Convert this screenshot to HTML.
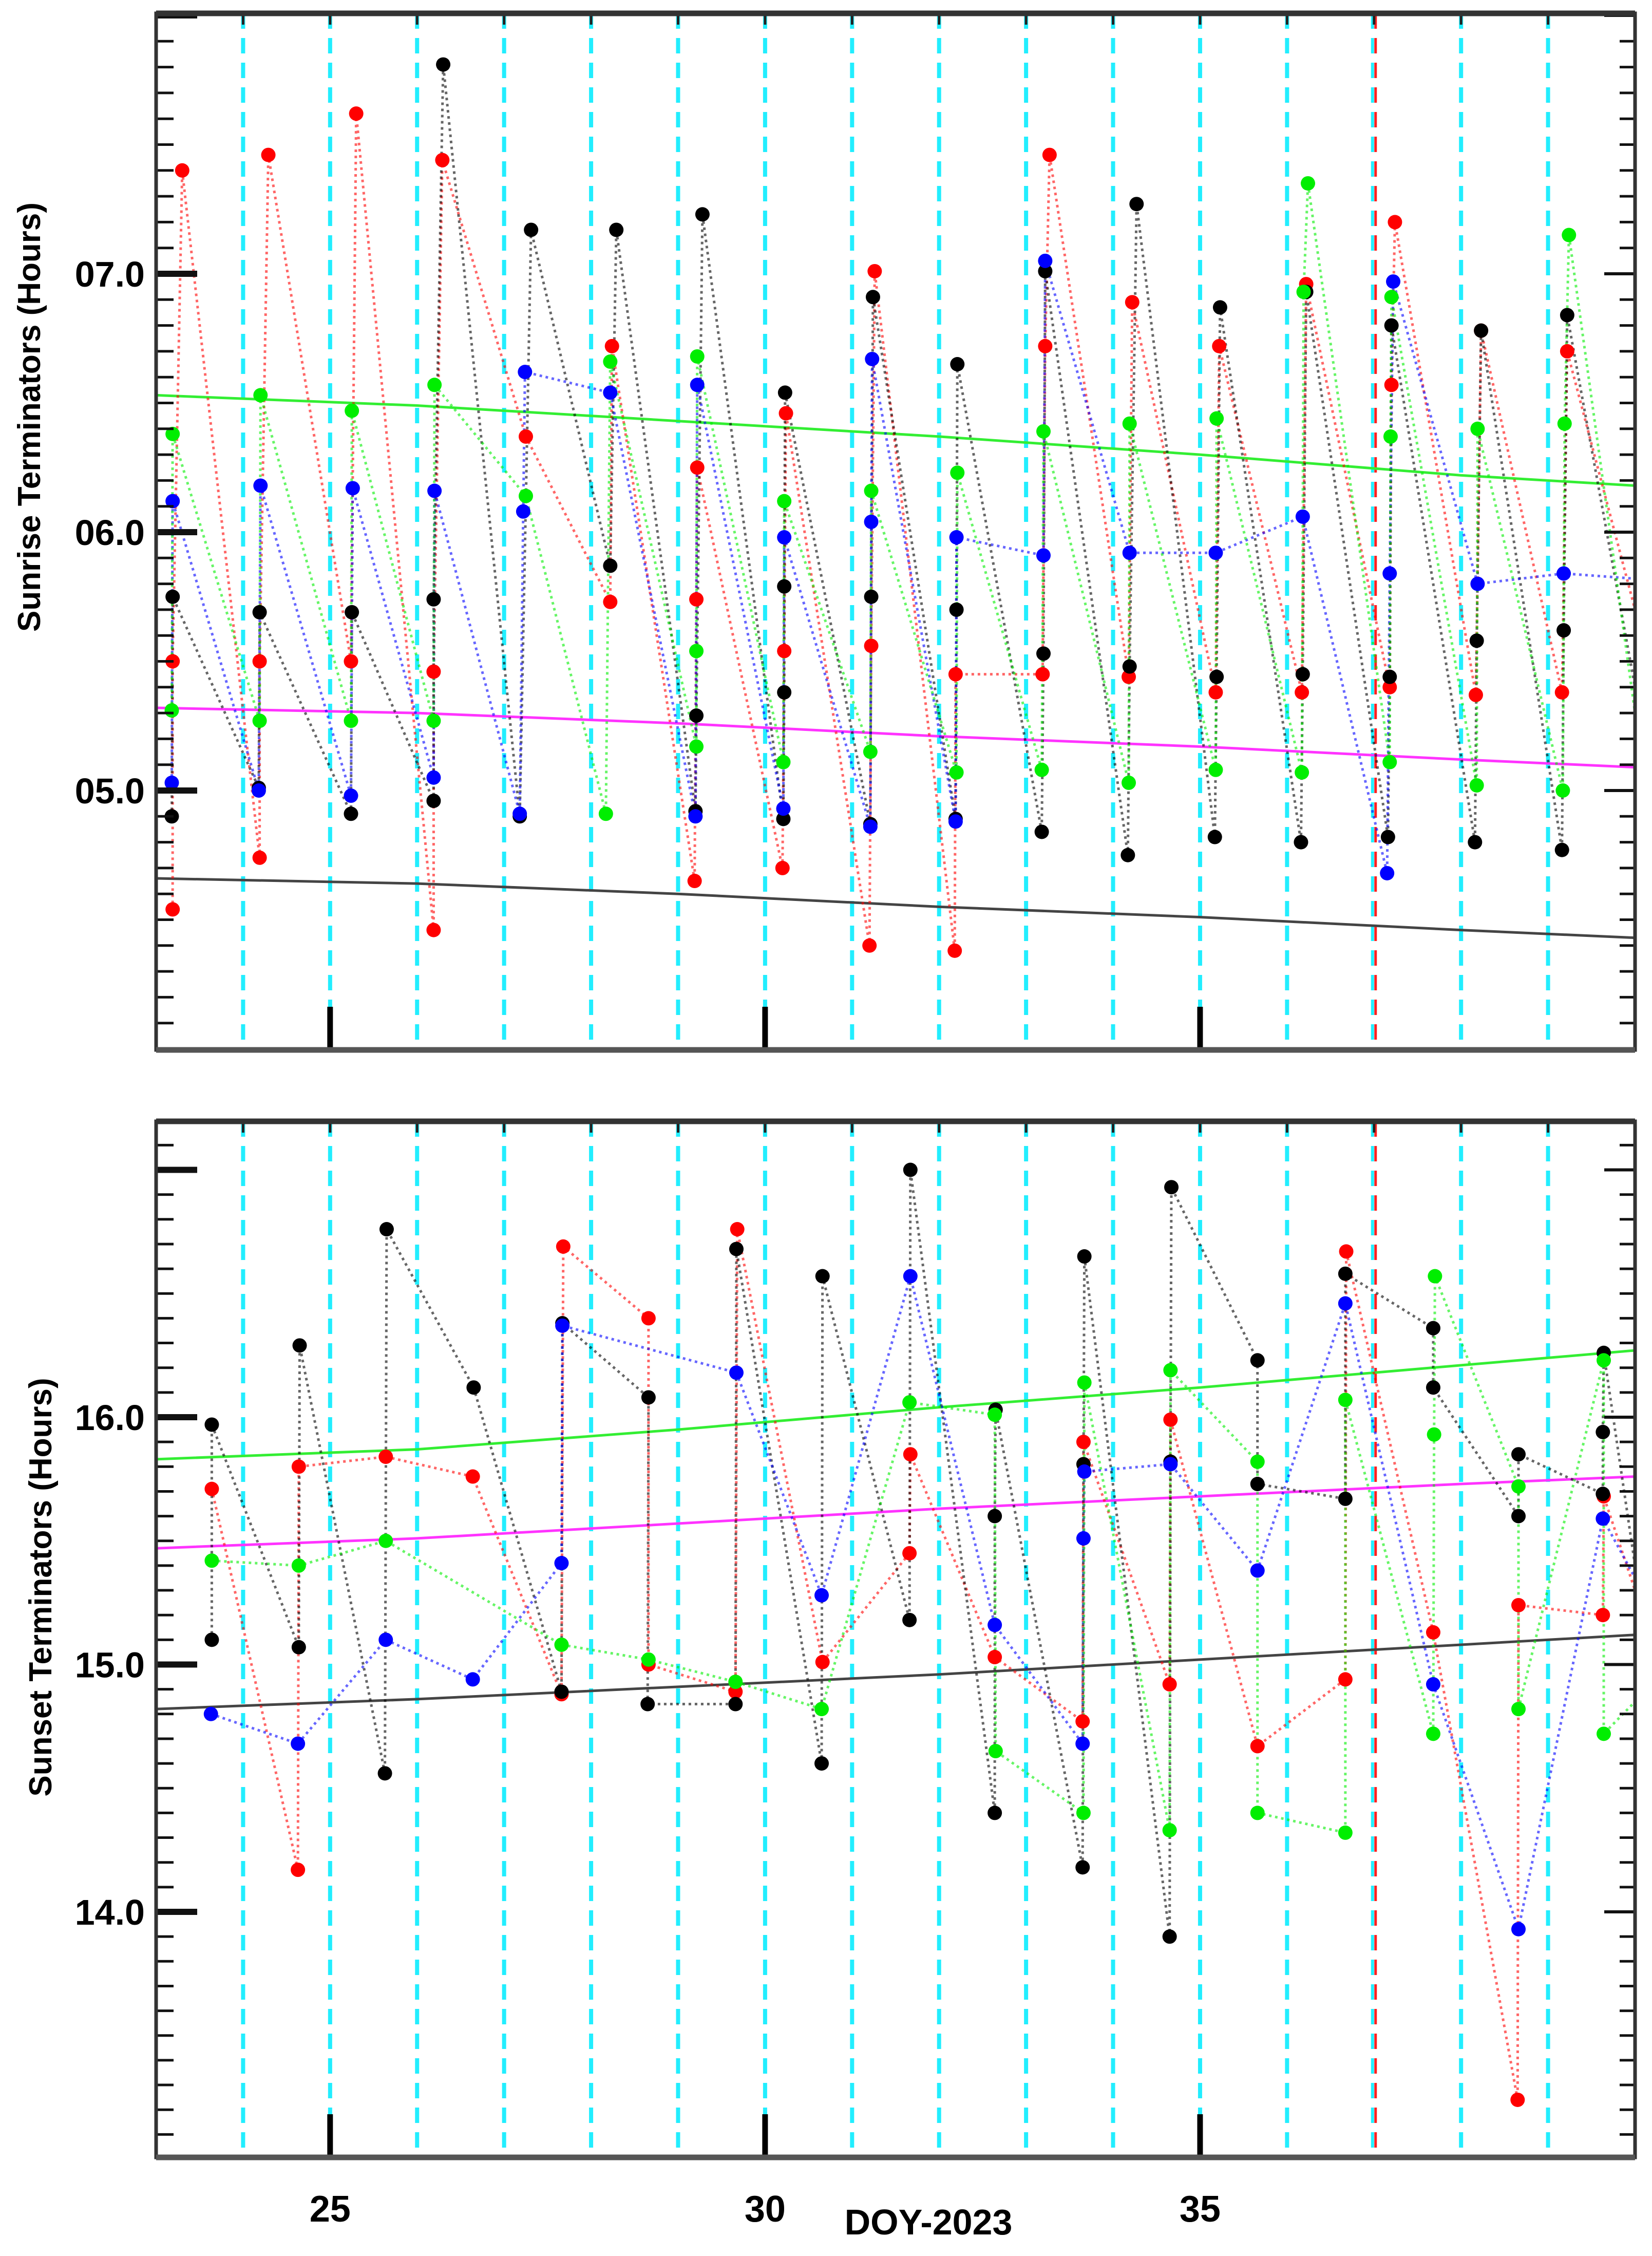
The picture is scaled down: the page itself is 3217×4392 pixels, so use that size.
<!DOCTYPE html>
<html><head><meta charset="utf-8"><title>Terminators DOY-2023</title>
<style>html,body{margin:0;padding:0;background:#fff;}svg{display:block;}</style></head>
<body>
<svg id="chart" xmlns="http://www.w3.org/2000/svg" width="3217" height="4392" viewBox="0 0 3217 4392" font-family="Liberation Sans, sans-serif">
<rect x="0" y="0" width="3217" height="4392" fill="#fff"/>
<g id="top"></g>
<g id="bot"></g>
<text x="1808" y="4350" font-size="70" font-weight="bold" text-anchor="middle">DOY-2023</text>
<text transform="translate(78,812) rotate(-90)" font-size="62" font-weight="bold" text-anchor="middle">Sunrise Terminators (Hours)</text>
<text transform="translate(100,3090) rotate(-90)" font-size="62" font-weight="bold" text-anchor="middle">Sunset Terminators (Hours)</text>
</svg>
<script>
// ---- axis data ----
const xTickDays = [25, 30, 35];
const xTickLabels = ["25", "30", "35"];
const dayGrid = [24,25,26,27,28,29,30,31,32,33,34,35,36,38,39];
const eventDay = [37];
const topYTicks = [5, 6, 7];
const topYLabels = ["05.0", "06.0", "07.0"];
const botYTicks = [14, 15, 16];
const botYLabels = ["14.0", "15.0", "16.0"];

// ---- model lines ----
const modelDays = [23, 26, 29, 32, 35, 38, 40];
const topModelGreen = [6.53, 6.49, 6.43, 6.37, 6.30, 6.22, 6.18];
const topModelMagenta = [5.32, 5.30, 5.26, 5.21, 5.17, 5.12, 5.09];
const topModelBlack = [4.66, 4.64, 4.60, 4.55, 4.51, 4.46, 4.43];
const botModelGreen = [15.83, 15.87, 15.95, 16.04, 16.12, 16.21, 16.27];
const botModelMagenta = [15.47, 15.51, 15.57, 15.63, 15.68, 15.73, 15.76];
const botModelBlack = [14.82, 14.86, 14.91, 14.96, 15.02, 15.08, 15.12];

// ---- sunrise series ----
const topRedDays = [23.19,23.19,23.30,24.19,24.19,24.29,25.24,25.30,26.19,26.19,26.29,27.25,28.22,28.24,29.19,29.21,29.22,30.20,30.22,30.24,31.20,31.22,31.26,32.18,32.19,33.19,33.22,33.27,34.18,34.22,35.18,35.22,36.17,36.22,37.18,37.20,37.24,38.17,38.23,39.16,39.22,40.0];
const topRedHours = [4.54,5.50,7.40,4.74,5.50,7.46,5.50,7.62,4.46,5.46,7.44,6.37,5.73,6.72,4.65,5.74,6.25,4.70,5.54,6.46,4.40,5.56,7.01,4.38,5.45,5.45,6.72,7.46,5.44,6.89,5.38,6.72,5.38,6.96,5.40,6.57,7.20,5.37,6.78,5.38,6.70,5.70];
const topBlackDays = [23.18,23.19,24.18,24.19,25.24,25.25,26.19,26.19,26.30,27.18,27.31,28.22,28.29,29.20,29.21,29.28,30.21,30.22,30.22,30.23,31.21,31.22,31.24,32.19,32.20,32.21,33.18,33.20,33.22,34.17,34.19,34.27,35.17,35.19,35.23,36.16,36.18,36.22,37.16,37.18,37.20,38.16,38.18,38.23,39.16,39.18,39.22,40.0];
const topBlackHours = [4.90,5.75,5.01,5.69,4.91,5.69,4.96,5.74,7.81,4.90,7.17,5.87,7.17,4.92,5.29,7.23,4.89,5.38,5.79,6.54,4.87,5.75,6.91,4.89,5.70,6.65,4.84,5.53,7.01,4.75,5.48,7.27,4.82,5.44,6.87,4.80,5.45,6.93,4.82,5.44,6.80,4.80,5.58,6.78,4.77,5.62,6.84,5.40];
const topBlueDays = [23.18,23.19,24.18,24.20,25.24,25.26,26.19,26.20,27.18,27.22,27.24,28.22,29.20,29.22,30.21,30.22,31.21,31.22,31.23,32.19,32.20,33.20,33.22,34.19,35.18,36.18,37.15,37.18,37.22,38.19,39.18,40.0];
const topBlueHours = [5.03,6.12,5.00,6.18,4.98,6.17,5.05,6.16,4.91,6.08,6.62,6.54,4.90,6.57,4.93,5.98,4.86,6.04,6.67,4.88,5.98,5.91,7.05,5.92,5.92,6.06,4.68,5.84,6.97,5.80,5.84,5.82];
const topGreenDays = [23.18,23.19,24.19,24.20,25.24,25.25,26.19,26.20,27.25,28.17,28.22,29.21,29.21,29.22,30.21,30.22,31.21,31.22,32.20,32.21,33.18,33.20,34.18,34.19,35.18,35.19,36.17,36.19,36.24,37.18,37.19,37.20,38.18,38.19,39.17,39.19,39.24,40.0];
const topGreenHours = [5.31,6.38,5.27,6.53,5.27,6.47,5.27,6.57,6.14,4.91,6.66,5.17,5.54,6.68,5.11,6.12,5.15,6.16,5.07,6.23,5.08,6.39,5.03,6.42,5.08,6.44,5.07,6.93,7.35,5.11,6.37,6.91,5.02,6.40,5.00,6.42,7.15,5.30];

// ---- sunset series ----
const botBlackDays = [23.64,23.64,24.64,24.65,25.63,25.65,26.65,27.66,27.67,28.66,28.65,29.66,29.67,30.65,30.66,31.66,31.67,32.64,32.64,32.65,33.65,33.66,33.67,34.65,34.66,34.67,35.66,35.66,36.67,36.67,37.68,37.68,38.66,38.66,39.63,39.63,39.64,40.0];
const botBlackHours = [15.10,15.97,15.07,16.29,14.56,16.76,16.12,14.89,16.38,16.08,14.84,14.84,16.68,14.60,16.57,15.18,17.00,14.40,15.60,16.03,14.18,15.81,16.65,13.90,15.82,16.93,16.23,15.73,15.67,16.58,16.36,16.12,15.60,15.85,15.69,15.94,16.26,15.40];
const botRedDays = [23.64,24.63,24.64,25.64,26.64,27.66,27.68,28.66,28.66,29.66,29.68,30.66,31.66,31.67,32.64,33.65,33.66,34.65,34.66,35.66,36.67,36.68,37.68,38.65,38.66,39.63,39.64,40.0];
const botRedHours = [15.71,14.17,15.80,15.84,15.76,14.88,16.69,16.40,15.00,14.89,16.76,15.01,15.45,15.85,15.03,14.77,15.90,14.92,15.99,14.67,14.94,16.67,15.13,13.24,15.24,15.20,15.68,15.30];
const botBlueDays = [23.63,24.63,25.64,26.64,27.66,27.67,29.67,30.65,31.67,32.64,33.65,33.66,33.67,34.66,35.66,36.67,37.68,38.66,39.63,40.0];
const botBlueHours = [14.80,14.68,15.10,14.94,15.41,16.37,16.18,15.28,16.57,15.16,14.68,15.51,15.78,15.81,15.38,16.46,14.92,13.93,15.59,15.35];
const botGreenDays = [23.64,24.64,25.64,27.66,28.66,29.66,30.65,31.66,32.64,32.65,33.66,33.67,34.65,34.66,35.66,35.66,36.67,36.67,37.68,37.69,37.70,38.66,38.66,39.64,39.64,40.0];
const botGreenHours = [15.42,15.40,15.50,15.08,15.02,14.93,14.82,16.06,16.01,14.65,14.40,16.14,14.33,16.19,15.82,14.40,14.32,16.07,14.72,15.93,16.57,15.72,14.82,16.23,14.72,14.85];

// ---- layout ----
const NS = "http://www.w3.org/2000/svg";
const X0 = 304, X1 = 3184, D0 = 23, D1 = 40;
function xs(d){ return X0 + (d - D0) * (X1 - X0) / (D1 - D0); }
const panels = {
  top: {g: document.getElementById('top'), y0: 26, y1: 2044, hRef: 7, yRef: 533, pph: 503, hMin: 4.0, hMax: 8.0},
  bot: {g: document.getElementById('bot'), y0: 2183, y1: 4200, hRef: 16, yRef: 2759, pph: 481.5, hMin: 13.0, hMax: 17.1}
};
function ys(p, h){ return p.yRef + (p.hRef - h) * p.pph; }
function mk(tag, attrs, parent){
  const e = document.createElementNS(NS, tag);
  for (const k in attrs) e.setAttribute(k, attrs[k]);
  parent.appendChild(e); return e;
}

function drawPanel(p, key, yTicks, yLabels, models, series){
  const g = p.g;
  dayGrid.forEach(d => {
    const l = mk('line', {x1: xs(d), x2: xs(d), y1: p.y0, y2: p.y1, stroke: '#22eeff', 'stroke-width': 8, 'stroke-dasharray': '30 18'}, g);
    
    
  });
  eventDay.forEach(d => {
    const l1 = mk('line', {x1: xs(d)-3, x2: xs(d)-3, y1: p.y0, y2: p.y1, stroke: '#22eeff', 'stroke-width': 6, 'stroke-dasharray': '30 18'}, g);
    
    
    const l = mk('line', {x1: xs(d)+3, x2: xs(d)+3, y1: p.y0, y2: p.y1, stroke: '#ff2020', 'stroke-width': 5, 'stroke-dasharray': '30 18'}, g);
    
    
  });
  models.forEach(m => {
    const pts = modelDays.map((d, i) => xs(d) + ',' + ys(p, m.vals[i])).join(' ');
    const pl = mk('polyline', {points: pts, fill: 'none', stroke: m.color, 'stroke-width': 5}, g);
    
    
  });
  series.forEach(s => {
    const pts = s.days.map((d, i) => xs(d) + ',' + ys(p, s.hours[i])).join(' ');
    const pl = mk('polyline', {points: pts, fill: 'none', stroke: s.color, 'stroke-width': 5, 'stroke-dasharray': '5 7', opacity: 0.6}, g);
    
    
  });
  series.forEach(s => {
    s.days.forEach((d, i) => {
      if (d >= D1) return;
      const c = mk('circle', {cx: xs(d), cy: ys(p, s.hours[i]), r: 14, fill: s.color}, g);
      
      
    });
  });
  for (let t = Math.ceil(p.hMin*10); t <= Math.floor(p.hMax*10); t++) {
    const h = t / 10, y = ys(p, h);
    if (y < p.y0 + 4 || y > p.y1 - 4) continue;
    const major = (t % 10 === 0);
    const len = major ? 80 : 34, w = major ? 12 : 5;
    const a = mk('line', {x1: X0, x2: X0 + len, y1: y, y2: y, stroke: '#111', 'stroke-width': w}, g);
    
    
    const b = mk('line', {x1: X1 - (major ? 60 : 30), x2: X1, y1: y, y2: y, stroke: '#111', 'stroke-width': major ? 6 : 5}, g);
    
    
  }
  yTicks.forEach((h, i) => {
    const t = mk('text', {x: 282, y: ys(p, h) + 25, 'font-size': 70, 'font-weight': 'bold', 'text-anchor': 'end'}, g);
    t.textContent = yLabels[i];
    
    
  });
  for (let d = 24; d < D1; d++) {
    const a = mk('line', {x1: xs(d), x2: xs(d), y1: p.y0, y2: p.y0 + 22, stroke: '#222', 'stroke-width': 5}, g);
    
    
  }
  xTickDays.forEach(d => {
    const a = mk('line', {x1: xs(d), x2: xs(d), y1: p.y1 - 84, y2: p.y1, stroke: '#000', 'stroke-width': 11}, g);
    
    
  });
  const f = mk('rect', {x: X0, y: p.y0, width: X1 - X0, height: p.y1 - p.y0, fill: 'none', stroke: '#333', 'stroke-width': 7}, g);
  
  
  const bl = mk('line', {x1: X0, x2: X1, y1: p.y1, y2: p.y1, stroke: '#555', 'stroke-width': 11}, g);
  
  
  const tl = mk('line', {x1: X0, x2: X1, y1: p.y0, y2: p.y0, stroke: '#333', 'stroke-width': 11}, g);
  
  
}

drawPanel(panels.top, 'sunrise', topYTicks, topYLabels,
  [{vals: topModelGreen, color: '#33ee33', name: 'sunrise-model-green'},
   {vals: topModelMagenta, color: '#ff33ff', name: 'sunrise-model-magenta'},
   {vals: topModelBlack, color: '#444', name: 'sunrise-model-black'}],
  [{days: topRedDays, hours: topRedHours, color: '#ff0000', name: 'sunrise-red'},
   {days: topBlackDays, hours: topBlackHours, color: '#000000', name: 'sunrise-black'},
   {days: topBlueDays, hours: topBlueHours, color: '#0000ff', name: 'sunrise-blue'},
   {days: topGreenDays, hours: topGreenHours, color: '#00ee00', name: 'sunrise-green'}]);

drawPanel(panels.bot, 'sunset', botYTicks, botYLabels,
  [{vals: botModelGreen, color: '#33ee33', name: 'sunset-model-green'},
   {vals: botModelMagenta, color: '#ff33ff', name: 'sunset-model-magenta'},
   {vals: botModelBlack, color: '#444', name: 'sunset-model-black'}],
  [{days: botRedDays, hours: botRedHours, color: '#ff0000', name: 'sunset-red'},
   {days: botBlackDays, hours: botBlackHours, color: '#000000', name: 'sunset-black'},
   {days: botBlueDays, hours: botBlueHours, color: '#0000ff', name: 'sunset-blue'},
   {days: botGreenDays, hours: botGreenHours, color: '#00ee00', name: 'sunset-green'}]);

const svg = document.getElementById('chart');
xTickDays.forEach((d, i) => {
  const t = mk('text', {x: xs(d), y: 4325, 'font-size': 72, 'font-weight': 'bold', 'text-anchor': 'middle'}, svg);
  t.textContent = xTickLabels[i];
  
  
});
</script>
</body></html>
